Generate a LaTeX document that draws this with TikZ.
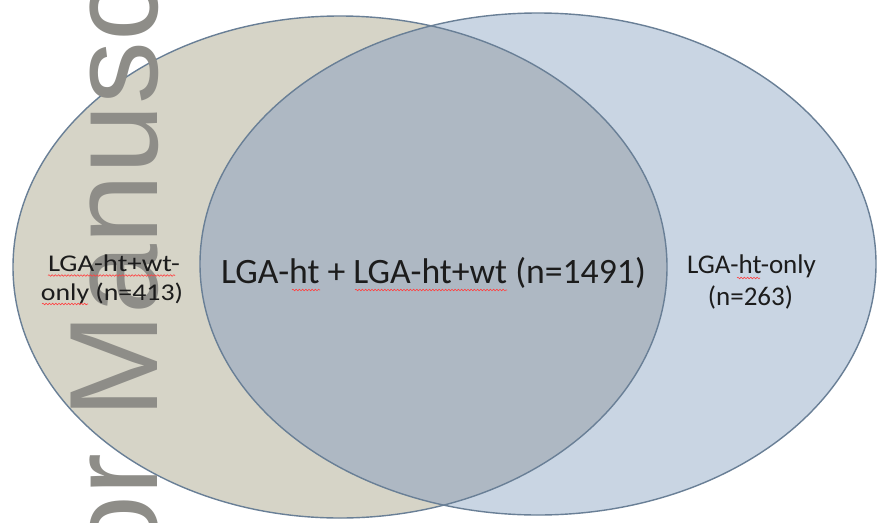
\documentclass[tikz,border=0pt]{standalone}
\usepackage{fontspec}
\setmainfont{Carlito}
\newfontfamily\wmfont{Liberation Sans}
\usetikzlibrary{decorations.pathmorphing}
\definecolor{leftfill}{RGB}{214,212,199}
\definecolor{rightfill}{RGB}{201,213,227}
\definecolor{overlapfill}{RGB}{174,184,195}
\definecolor{edgecol}{RGB}{105,127,150}
\definecolor{wmgray}{RGB}{142,141,136}
\definecolor{txtcol}{RGB}{28,28,28}
\tikzset{
  vennedge/.style={draw=edgecol, line width=1.4pt},
  lbl/.style={inner sep=0pt, outer sep=0pt, text=txtcol, anchor=base},
  squig/.style={draw=red!75, line width=0.6pt, decorate,
    decoration={snake, segment length=3.2pt, amplitude=0.8pt}},
}
\begin{document}
\begin{tikzpicture}[x=1pt,y=-1pt]
\useasboundingbox (0,0) rectangle (877,522);
\clip (0,0) rectangle (877,522);
\fill[white] (0,0) rectangle (877,522);
% circles
\fill[leftfill] (340,267) ellipse [x radius=327, y radius=251];
\fill[rightfill] (538,264) ellipse [x radius=338, y radius=251];
\begin{scope}
  \clip (340,267) ellipse [x radius=327, y radius=251];
  \fill[overlapfill] (538,264) ellipse [x radius=338, y radius=251];
\end{scope}
\draw[vennedge] (340,267) ellipse [x radius=327, y radius=251];
\draw[vennedge] (538,264) ellipse [x radius=338, y radius=251];
% watermark
\node[rotate=90, anchor=base west, inner sep=0pt, outer sep=0pt, text=wmgray,
  font=\wmfont\fontsize{125.7}{130}\selectfont] (wm) at (157,824) {Author Manuscript};
% labels
\node[lbl, font=\fontsize{35.7}{40}\selectfont] (mid) at (433.5,283) {LGA-ht + LGA-ht+wt (n=1491)};
\node[lbl, xscale=1.2, font=\fontsize{24}{28}\selectfont] (leftA) at (114,271) {LGA-ht+wt-};
\node[lbl, xscale=1.16, font=\fontsize{24}{28}\selectfont] (leftB) at (112,300) {only (n=413)};
\node[lbl, font=\fontsize{27}{30}\selectfont] (rightA) at (751.5,273) {LGA-ht-only};
\node[lbl, font=\fontsize{27}{30}\selectfont] (rightB) at (750.5,305) {(n=263)};
% spell-check squiggles
\draw[squig] (292,290) -- (320,290);
\draw[squig] (355,290) -- (507,290);
\draw[squig] (48,275.5) -- (175,275.5);
\draw[squig] (42,304) -- (88,304);
\draw[squig] (737,278) -- (760,278);
\end{tikzpicture}
\end{document}
